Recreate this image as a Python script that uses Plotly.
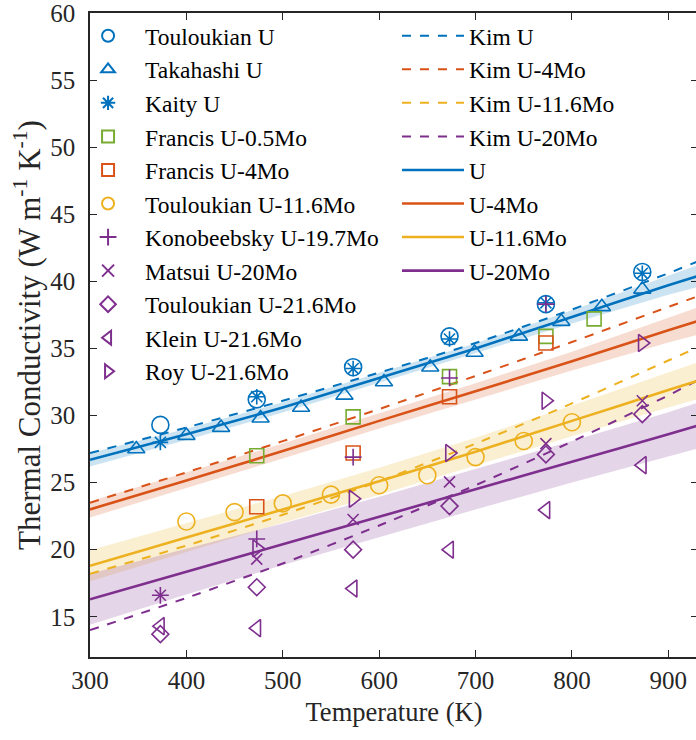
import plotly.graph_objects as go

BLUE = '#0072BD'
ORANGE = '#D95319'
YELLOW = '#EDB120'
PURPLE = '#7E2F8E'
GREEN = '#77AC30'

# ---- fitted curves (solid) and Kim model (dashed) ----
T_fit = [300, 400, 500, 600, 700, 800, 900, 931]
fit_U = [26.7, 28.6, 30.6, 32.8, 35.0, 37.35, 39.7, 40.4]
fit_U4 = [23.0, 25.15, 27.35, 29.6, 31.8, 34.05, 36.35, 37.05]
fit_U116 = [18.8, 20.9, 23.0, 25.1, 27.3, 29.6, 31.9, 32.6]
fit_U20 = [16.3, 18.35, 20.4, 22.45, 24.5, 26.55, 28.6, 29.25]

band_U_lo = [26.2, 28.18, 30.22, 32.44, 34.62, 36.85, 39.0, 39.58]
band_U_hi = [27.2, 29.02, 30.98, 33.16, 35.38, 37.85, 40.4, 41.22]
band_U4_lo = [22.4, 24.57, 26.79, 29.04, 31.2, 33.35, 35.45, 36.03]
band_U4_hi = [23.6, 25.73, 27.91, 30.16, 32.4, 34.75, 37.25, 38.07]
band_U116_lo = [17.65, 19.85, 22.0, 24.1, 26.25, 28.45, 30.6, 31.24]
band_U116_hi = [19.95, 21.95, 24.0, 26.1, 28.35, 30.75, 33.2, 33.96]
band_U20_lo = [14.4, 16.65, 18.85, 20.95, 23.0, 25.0, 26.95, 27.54]
band_U20_hi = [18.2, 20.05, 21.95, 23.95, 26.0, 28.1, 30.25, 30.96]

kim_U = [27.2, 29.1, 31.1, 33.2, 35.4, 37.9, 40.6, 41.5]
kim_U4 = [23.5, 25.76, 28.09, 30.48, 32.95, 35.48, 38.09, 38.9]
kim_U116 = [18.2, 20.3, 22.6, 25.1, 27.9, 30.9, 34.1, 35.1]
kim_U20 = [14.0, 16.4, 18.97, 21.8, 24.8, 28.06, 31.5, 32.65]

# ---- experimental data ----
T6 = [373, 473, 573, 673, 773, 873]
toul_U = [29.3, 31.2, 33.6, 35.9, 38.3, 40.7]
kaity_U = [28.0, 31.4, 33.5, 35.7, 38.4, 40.6]
taka_T = [348, 400, 436, 477, 519, 564, 605, 653, 699, 745, 789, 831, 873]
taka_U = [27.5, 28.5, 29.1, 29.8, 30.6, 31.5, 32.5, 33.6, 34.7, 35.9, 37.0, 38.1, 39.4]
francis05_T = [473, 573, 673, 773, 823]
francis05_K = [27.0, 29.9, 32.9, 35.9, 37.2]
francis4_T = [473, 573, 673, 773]
francis4_K = [23.2, 27.2, 31.4, 35.4]
toul116_T = [400, 450, 500, 550, 600, 650, 700, 750, 800]
toul116_K = [22.1, 22.8, 23.45, 24.1, 24.8, 25.55, 26.9, 28.1, 29.5]
kono_T = [373, 473, 573, 673, 773]
kono_K = [16.6, 20.8, 26.9, 32.8, 38.3]
matsui_K = [16.6, 19.3, 22.25, 25.05, 27.9, 31.1]
toul216_K = [13.7, 17.2, 20.0, 23.25, 27.1, 30.1]
klein_K = [14.3, 14.15, 17.1, 20.0, 22.95, 26.3]
roy_T = [473, 573, 673, 773, 873]
roy_K = [20.1, 23.8, 27.2, 31.1, 35.4]

x_ticks = [300, 400, 500, 600, 700, 800, 900]
y_ticks = [15, 20, 25, 30, 35, 40, 45, 50, 55, 60]

FONT = 'Liberation Serif, Times New Roman, serif'
TXT = '#262626'

fig = go.Figure()


def rgba(hexc, a):
    h = hexc.lstrip('#')
    return 'rgba(%d,%d,%d,%s)' % (int(h[0:2], 16), int(h[2:4], 16), int(h[4:6], 16), a)


for lo, hi, c in [(band_U_lo, band_U_hi, BLUE), (band_U4_lo, band_U4_hi, ORANGE),
                  (band_U116_lo, band_U116_hi, YELLOW), (band_U20_lo, band_U20_hi, PURPLE)]:
    fig.add_trace(go.Scatter(x=T_fit + T_fit[::-1], y=hi + lo[::-1], fill='toself',
                             fillcolor=rgba(c, 0.2), line=dict(width=0), mode='lines',
                             showlegend=False, hoverinfo='skip'))

for name, y, c in [('Kim U', kim_U, BLUE), ('Kim U-4Mo', kim_U4, ORANGE),
                   ('Kim U-11.6Mo', kim_U116, YELLOW), ('Kim U-20Mo', kim_U20, PURPLE)]:
    fig.add_trace(go.Scatter(x=T_fit, y=y, mode='lines', name=name, legend='legend2',
                             line=dict(color=c, width=2, dash='dash', shape='spline', smoothing=0.6)))
for name, y, c in [('U', fit_U, BLUE), ('U-4Mo', fit_U4, ORANGE),
                   ('U-11.6Mo', fit_U116, YELLOW), ('U-20Mo', fit_U20, PURPLE)]:
    fig.add_trace(go.Scatter(x=T_fit, y=y, mode='lines', name=name, legend='legend2',
                             line=dict(color=c, width=2.6, shape='spline', smoothing=0.6)))

markers = [
    ('Touloukian U', T6, toul_U, BLUE, 'circle-open', 17),
    ('Takahashi U', taka_T, taka_U, BLUE, 'triangle-up-open', 15),
    ('Kaity U', T6, kaity_U, BLUE, 'asterisk-open', 13),
    ('Francis U-0.5Mo', francis05_T, francis05_K, GREEN, 'square-open', 14),
    ('Francis U-4Mo', francis4_T, francis4_K, ORANGE, 'square-open', 14),
    ('Touloukian U-11.6Mo', toul116_T, toul116_K, YELLOW, 'circle-open', 17),
    ('Konobeebsky U-19.7Mo', kono_T, kono_K, PURPLE, 'cross-thin-open', 12),
    ('Matsui U-20Mo', T6, matsui_K, PURPLE, 'x-thin-open', 11),
    ('Touloukian U-21.6Mo', T6, toul216_K, PURPLE, 'diamond-open', 13),
    ('Klein U-21.6Mo', T6, klein_K, PURPLE, 'triangle-left-open', 15),
    ('Roy U-21.6Mo', roy_T, roy_K, PURPLE, 'triangle-right-open', 15),
]
for name, x, y, c, sym, sz in markers:
    fig.add_trace(go.Scatter(x=x, y=y, mode='markers', name=name, legend='legend',
                             marker=dict(symbol=sym, size=sz, color=c,
                                         line=dict(color=c, width=1.6))))

axis_common = dict(showline=True, linecolor=TXT, linewidth=1.5, mirror='ticks',
                   ticks='inside', ticklen=7, tickwidth=1.2, tickcolor=TXT,
                   showgrid=False, zeroline=False, ticklabeloverflow='allow',
                   tickfont=dict(family=FONT, size=25, color=TXT))

W, H = 700, 740
L, T, B = 90, 12, 83
PW = W - L
PH = H - T - B
LEG_Y = 1 - 1.0 / PH
X_RANGE = [300, 930.8]

fig.update_layout(
    width=W, height=H,
    margin=dict(l=L, r=0, t=T, b=B),
    plot_bgcolor='white', paper_bgcolor='white',
    xaxis=dict(range=X_RANGE, tickvals=x_ticks,
               title=dict(text='Temperature (K)', font=dict(family=FONT, size=26.5, color=TXT), standoff=10),
               **axis_common),
    yaxis=dict(range=[12, 60], tickvals=y_ticks, ticklabelstandoff=8,
               title=dict(text='Thermal Conductivity (W m<sup>-1</sup> K<sup>-1</sup>)',
                          font=dict(family=FONT, size=31, color=TXT), standoff=0),
               **axis_common),
    legend=dict(x=(71 - L) / PW, y=LEG_Y, xanchor='left', yanchor='top',
                bgcolor='rgba(255,255,255,0)', itemwidth=64, itemsizing='constant', maxheight=700,
                font=dict(family=FONT, size=23.5, color='black'), tracegroupgap=0),
    legend2=dict(x=(398 - L) / PW, y=LEG_Y, xanchor='left', yanchor='top',
                 bgcolor='rgba(255,255,255,0)', itemwidth=62, maxheight=700,
                 font=dict(family=FONT, size=23.5, color='black'), tracegroupgap=0),
)

fig.write_html('out.html', config={'displayModeBar': False},
               post_script="document.body.style.margin='0';document.body.style.overflow='hidden';")
